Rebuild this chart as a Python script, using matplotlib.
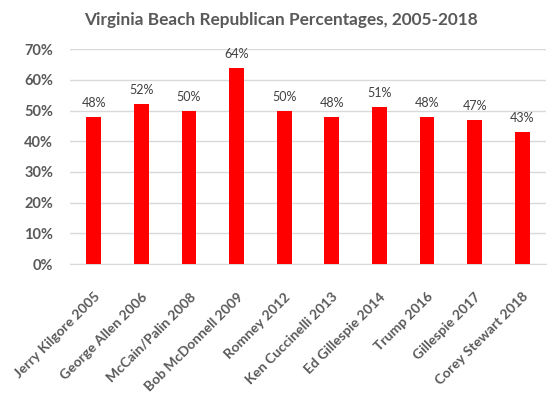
import numpy as np
import matplotlib.pyplot as plt
from matplotlib.ticker import PercentFormatter

candidates = ['Jerry Kilgore 2005', 'George Allen 2006', 'McCain/Palin 2008',
              'Bob McDonnell 2009', 'Romney 2012', 'Ken Cuccinelli 2013',
              'Ed Gillespie 2014', 'Trump 2016', 'Gillespie 2017',
              'Corey Stewart 2018']
percentages = [48, 52, 50, 64, 50, 48, 51, 48, 47, 43]
y_ticks = [0, 10, 20, 30, 40, 50, 60, 70]

plt.rcParams['font.family'] = ['Lato', 'DejaVu Sans']

fig = plt.figure(figsize=(5.58, 3.96), dpi=100)
ax = fig.add_axes([0.1254, 0.333, 0.853, 0.543])

x = np.arange(len(candidates))
ax.bar(x, percentages, width=0.31, color='#ff0000', zorder=3)

for xi, v in zip(x, percentages):
    ax.text(xi, v + 2.6, f'{v}%', ha='center', va='bottom',
            fontsize=9, color='#404040')

ax.set_xlim(-0.5, len(candidates) - 0.5)
ax.set_ylim(0, 70)
ax.set_yticks(y_ticks)
ax.yaxis.set_major_formatter(PercentFormatter(decimals=0))
ax.grid(axis='y', color='#d9d9d9', linewidth=1, zorder=0)

ax.set_xticks(x)
ax.set_xticklabels(candidates, rotation=45, ha='right', rotation_mode='anchor',
                   fontsize=10, fontweight='bold', color='#595959')
for lbl in ax.get_yticklabels():
    lbl.set_fontsize(10.5)
    lbl.set_fontweight('bold')
    lbl.set_color('#595959')

ax.tick_params(axis='x', length=0, pad=19)
ax.tick_params(axis='y', length=0, pad=12)
for s in ['top', 'right', 'left']:
    ax.spines[s].set_visible(False)
ax.spines['bottom'].set_color('#d9d9d9')

fig.text(0.504, 0.949, 'Virginia Beach Republican Percentages, 2005-2018',
         ha='center', va='center', fontsize=12.4, fontweight='bold',
         color='#595959')

fig.savefig('out.png', dpi=100)
